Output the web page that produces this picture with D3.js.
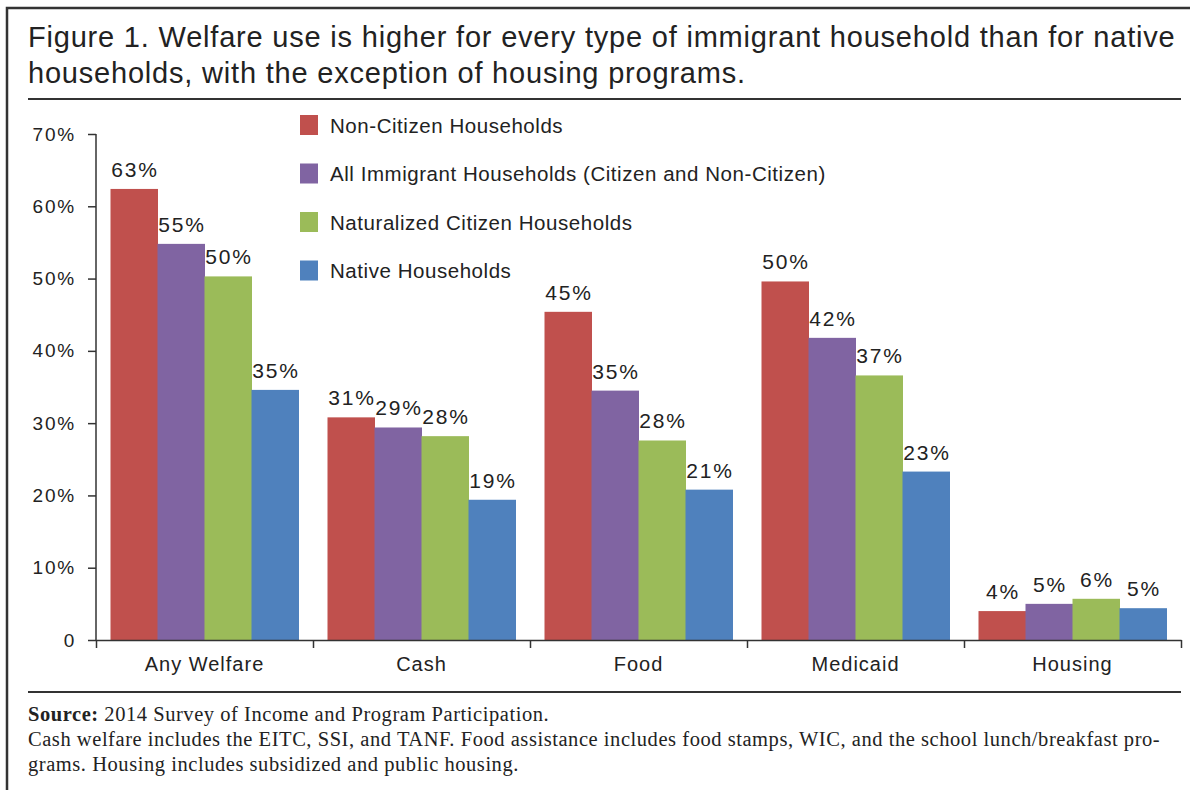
<!DOCTYPE html>
<html>
<head>
<meta charset="utf-8">
<script src="https://cdn.jsdelivr.net/npm/d3@7"></script>
<style>
  body { margin: 0; background: #fff; }
  svg { display: block; }
  text { font-family: "Liberation Sans", Arial, Helvetica, sans-serif; fill: #222; }
  .note { font-family: "Liberation Serif", "Times New Roman", serif; }
</style>
</head>
<body>
<div id="chart"></div>
<script>
const categories = ['Any Welfare', 'Cash', 'Food', 'Medicaid', 'Housing'];
const seriesNames = [
  'Non-Citizen Households',
  'All Immigrant Households (Citizen and Non-Citizen)',
  'Naturalized Citizen Households',
  'Native Households'
];
const colors = ['#c0504d', '#8064a2', '#9bbb59', '#4f81bd'];

// bar heights (percent) and the printed labels
const nonCitizen = [62.4, 30.8, 45.4, 49.6, 4.0];
const allImmigrant = [54.8, 29.4, 34.5, 41.8, 5.0];
const naturalized = [50.3, 28.2, 27.6, 36.6, 5.7];
const native = [34.6, 19.4, 20.8, 23.3, 4.4];
const nonCitizenLbl = ['63%', '31%', '45%', '50%', '4%'];
const allImmigrantLbl = ['55%', '29%', '35%', '42%', '5%'];
const naturalizedLbl = ['50%', '28%', '28%', '37%', '6%'];
const nativeLbl = ['35%', '19%', '21%', '23%', '5%'];

const yTicks = [0, 10, 20, 30, 40, 50, 60, 70];

const series = [nonCitizen, allImmigrant, naturalized, native];
const labels = [nonCitizenLbl, allImmigrantLbl, naturalizedLbl, nativeLbl];

const W = 1190, H = 790;
const svg = d3.select('#chart').append('svg')
  .attr('width', W)
  .attr('height', H);

// frame
svg.append('rect')
  .attr('x', 7).attr('y', 8)
  .attr('width', W + 10).attr('height', H + 10)
  .attr('fill', 'none')
  .attr('stroke', '#333')
  .attr('stroke-width', 2.5);

// title
const title = svg.append('text')
  .attr('x', 28)
  .attr('font-size', 29)
  .attr('letter-spacing', 0.8)
  .attr('fill', '#222');
title.append('tspan').attr('x', 28).attr('y', 47)
  .text('Figure 1. Welfare use is higher for every type of immigrant household than for native');
title.append('tspan').attr('x', 28).attr('y', 83)
  .text('households, with the exception of housing programs.');

svg.append('line')
  .attr('x1', 28).attr('x2', 1181)
  .attr('y1', 99).attr('y2', 99)
  .attr('stroke', '#333').attr('stroke-width', 2);

// scales
const y = d3.scaleLinear().domain([0, 70]).range([640, 134]);
const x0 = d3.scaleBand().domain(categories).range([96, 1181]);
const pad = 14.5;
const x1 = d3.scaleBand().domain(d3.range(series.length))
  .range([pad, x0.bandwidth() - pad]);

// y axis
const yAxis = d3.axisLeft(y)
  .tickValues(yTicks)
  .tickSize(8)
  .tickPadding(12)
  .tickFormat(d => d === 0 ? '0' : d + '%');
const gy = svg.append('g')
  .attr('transform', 'translate(96,0)')
  .call(yAxis);
gy.select('.domain').attr('stroke', '#333').attr('stroke-width', 1.5).attr('d', 'M0,134V640');
gy.selectAll('.tick line').attr('stroke', '#333').attr('stroke-width', 1.5);
gy.selectAll('.tick text')
  .attr('font-size', 19)
  .attr('letter-spacing', 1.8)
  .attr('font-family', '"Liberation Sans", Arial, sans-serif')
  .attr('fill', '#222');

// bars
const groups = svg.append('g').selectAll('g')
  .data(categories)
  .join('g')
  .attr('transform', d => `translate(${x0(d)},0)`);

groups.selectAll('rect')
  .data((c, ci) => series.map((s, si) => ({ si, v: s[ci], lbl: labels[si][ci] })))
  .join('rect')
  .attr('x', d => x1(d.si))
  .attr('width', x1.bandwidth() + 0.5)
  .attr('y', d => y(d.v))
  .attr('height', d => y(0) - y(d.v))
  .attr('fill', d => colors[d.si]);

groups.selectAll('text.val')
  .data((c, ci) => series.map((s, si) => ({ si, v: s[ci], lbl: labels[si][ci] })))
  .join('text')
  .attr('class', 'val')
  .attr('x', d => x1(d.si) + x1.bandwidth() / 2 + 1)
  .attr('y', d => y(d.v) - 12)
  .attr('text-anchor', 'middle')
  .attr('font-size', 21)
  .attr('letter-spacing', 1.8)
  .text(d => d.lbl);

// x axis: category separators
const xb = d3.scaleLinear().domain([0, categories.length]).range([96, 1181]);
const xAxis = d3.axisBottom(xb)
  .tickValues(d3.range(categories.length + 1))
  .tickSize(8)
  .tickSizeOuter(0)
  .tickFormat('');
const gx = svg.append('g')
  .attr('transform', 'translate(0,640)')
  .call(xAxis);
gx.select('.domain').attr('stroke', '#333').attr('stroke-width', 1.5);
gx.selectAll('.tick line').attr('stroke', '#333').attr('stroke-width', 1.5);

svg.append('g').selectAll('text')
  .data(categories)
  .join('text')
  .attr('x', d => x0(d) + x0.bandwidth() / 2)
  .attr('y', 671)
  .attr('text-anchor', 'middle')
  .attr('font-size', 20)
  .attr('letter-spacing', 1)
  .text(d => d);

// legend
const legend = svg.append('g').selectAll('g')
  .data(seriesNames)
  .join('g')
  .attr('transform', (d, i) => `translate(300,${115 + i * 48.5})`);
legend.append('rect')
  .attr('width', 18).attr('height', 20)
  .attr('fill', (d, i) => colors[i]);
legend.append('text')
  .attr('x', 30).attr('y', 17.5)
  .attr('font-size', 20.5)
  .attr('letter-spacing', 0.55)
  .text(d => d);

// footer
svg.append('line')
  .attr('x1', 28).attr('x2', 1181)
  .attr('y1', 692).attr('y2', 692)
  .attr('stroke', '#333').attr('stroke-width', 2);

const note = svg.append('g').attr('class', 'note');
const fs = 20.5, ls = 0.55;
const l1 = note.append('text').attr('class', 'note').attr('x', 28).attr('y', 721)
  .attr('font-size', fs).attr('letter-spacing', ls);
l1.append('tspan').attr('font-weight', 'bold').text('Source:');
l1.append('tspan').text(' 2014 Survey of Income and Program Participation.');
note.append('text').attr('class', 'note').attr('x', 28).attr('y', 746)
  .attr('font-size', fs).attr('letter-spacing', ls)
  .text('Cash welfare includes the EITC, SSI, and TANF. Food assistance includes food stamps, WIC, and the school lunch/breakfast pro-');
note.append('text').attr('class', 'note').attr('x', 28).attr('y', 771)
  .attr('font-size', fs).attr('letter-spacing', ls)
  .text('grams. Housing includes subsidized and public housing.');
</script>
</body>
</html>
